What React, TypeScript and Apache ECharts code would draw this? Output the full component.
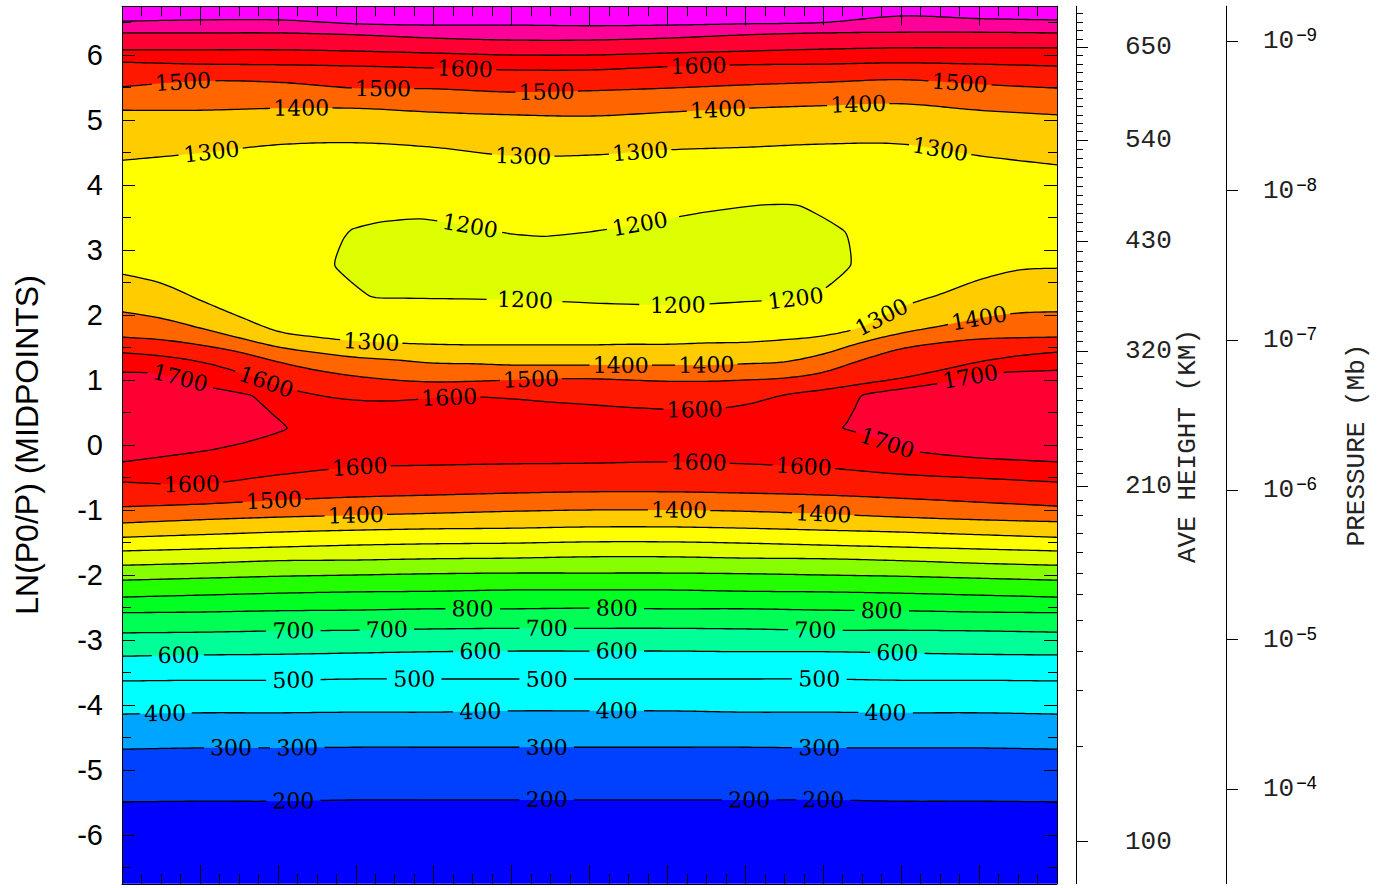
import React, { useEffect, useRef } from "react";
import * as echarts from "echarts";

// ---------- axes ----------
const LAT13 = [-90, -75, -60, -45, -30, -15, 0, 15, 30, 45, 60, 75, 90];
const LAT25 = [-90, -82.5, -75, -67.5, -60, -52.5, -45, -37.5, -30, -22.5, -15, -7.5, 0, 7.5, 15, 22.5, 30, 37.5, 45, 52.5, 60, 67.5, 75, 82.5, 90];
const Y_MAJOR = [-6, -5, -4, -3, -2, -1, 0, 1, 2, 3, 4, 5, 6];
const Y_MINOR = [-6.5, -5.5, -4.5, -3.5, -2.5, -1.5, -0.5, 0.5, 1.5, 2.5, 3.5, 4.5, 5.5, 6.5];

// average height profile (km) vs ln(p0/p)
const HEIGHT_KM = [100, 110, 120, 130, 140, 150, 160, 170, 180, 190, 200, 210, 320, 430, 540, 650];
const HEIGHT_LNP = [-6.1, -4.63, -3.77, -3.18, -2.7, -2.3, -1.97, -1.65, -1.35, -1.08, -0.85, -0.63, 1.44, 3.14, 4.69, 6.12];
const HEIGHT_LABELS = [100, 210, 320, 430, 540, 650];

// pressure axis (mb), p = P0 * exp(-lnp)
const P0_MB = 5e-7;
const PRESSURE_EXP = [-9, -8, -7, -6, -5, -4];

// ---------- contour lines: ln(p0/p) of each isotherm (K) ----------
// lower stack, T rises upward
const C200 = [-5.49, -5.48, -5.48, -5.46, -5.46, -5.46, -5.46, -5.46, -5.46, -5.46, -5.48, -5.48, -5.49];
const C300 = [-4.68, -4.66, -4.66, -4.65, -4.65, -4.65, -4.65, -4.65, -4.65, -4.66, -4.66, -4.66, -4.68];
const C400 = [-4.14, -4.12, -4.12, -4.11, -4.11, -4.09, -4.09, -4.09, -4.11, -4.11, -4.12, -4.12, -4.14];
const C500 = [-3.63, -3.62, -3.62, -3.6, -3.6, -3.6, -3.6, -3.6, -3.6, -3.6, -3.62, -3.62, -3.63];
const C600 = [-3.25, -3.23, -3.22, -3.2, -3.18, -3.17, -3.17, -3.17, -3.18, -3.18, -3.2, -3.22, -3.23];
const C700 = [-2.89, -2.88, -2.86, -2.85, -2.83, -2.82, -2.82, -2.82, -2.83, -2.85, -2.85, -2.86, -2.88];
const C800 = [-2.58, -2.57, -2.55, -2.54, -2.52, -2.52, -2.51, -2.52, -2.52, -2.54, -2.55, -2.57, -2.58];
const C900 = [-2.34, -2.31, -2.28, -2.26, -2.25, -2.23, -2.23, -2.23, -2.25, -2.26, -2.28, -2.31, -2.34];
const C1000 = [-2.08, -2.05, -2.02, -2.0, -1.98, -1.97, -1.97, -1.97, -1.98, -2.0, -2.02, -2.05, -2.08];
const C1100 = [-1.85, -1.82, -1.78, -1.77, -1.75, -1.74, -1.72, -1.72, -1.74, -1.75, -1.78, -1.82, -1.85];
const C1200 = [-1.63, -1.6, -1.57, -1.54, -1.52, -1.51, -1.49, -1.49, -1.51, -1.54, -1.57, -1.6, -1.63];
const C1300 = [-1.42, -1.38, -1.34, -1.31, -1.29, -1.28, -1.26, -1.26, -1.28, -1.31, -1.34, -1.38, -1.42];
const C1400 = [-1.2, -1.15, -1.11, -1.08, -1.05, -1.02, -1.0, -1.0, -1.02, -1.06, -1.11, -1.15, -1.18];
const C1500 = [-0.95, -0.91, -0.85, -0.8, -0.77, -0.74, -0.72, -0.72, -0.74, -0.77, -0.82, -0.88, -0.94];
const C1600 = [-0.57, -0.6, -0.46, -0.34, -0.31, -0.29, -0.28, -0.26, -0.29, -0.35, -0.45, -0.51, -0.57];
// middle, T falls upward
const M1600 = [1.42, 1.37, 1.28, 1.12, 0.91, 0.77, 0.69, 0.68, 0.72, 0.74, 0.71, 0.66, 0.62, 0.58, 0.55, 0.55, 0.62, 0.77, 0.85, 0.94, 1.03, 1.15, 1.28, 1.37, 1.43];
const M1500 = [1.66, 1.62, 1.54, 1.43, 1.28, 1.15, 1.06, 1.0, 0.97, 0.98, 1.0, 1.02, 1.02, 1.0, 0.98, 0.98, 1.0, 1.03, 1.12, 1.31, 1.48, 1.57, 1.63, 1.65, 1.66];
const M1400 = [2.05, 1.95, 1.8, 1.65, 1.51, 1.42, 1.35, 1.31, 1.26, 1.25, 1.23, 1.23, 1.23, 1.23, 1.23, 1.23, 1.25, 1.28, 1.4, 1.58, 1.72, 1.83, 1.95, 2.03, 2.05];
const M1300 = [2.63, 2.49, 2.23, 1.98, 1.75, 1.66, 1.6, 1.57, 1.55, 1.54, 1.54, 1.54, 1.54, 1.55, 1.55, 1.57, 1.58, 1.62, 1.68, 1.82, 2.12, 2.32, 2.54, 2.69, 2.72];
// upper stack, T rises upward
const U1300 = [4.38, 4.49, 4.62, 4.65, 4.58, 4.45, 4.46, 4.54, 4.58, 4.63, 4.63, 4.45, 4.31];
const U1400 = [5.15, 5.15, 5.18, 5.18, 5.12, 5.08, 5.06, 5.12, 5.18, 5.22, 5.25, 5.15, 5.08];
const U1500 = [5.51, 5.6, 5.58, 5.49, 5.48, 5.43, 5.45, 5.49, 5.54, 5.58, 5.62, 5.55, 5.49];
const U1600 = [5.89, 5.86, 5.85, 5.83, 5.8, 5.77, 5.77, 5.82, 5.85, 5.86, 5.88, 5.86, 5.83];
const U1700 = [6.08, 6.08, 6.08, 6.06, 6.03, 6.0, 6.0, 6.03, 6.06, 6.09, 6.11, 6.11, 6.11];
const U1800 = [6.34, 6.34, 6.34, 6.31, 6.26, 6.23, 6.23, 6.26, 6.31, 6.34, 6.35, 6.35, 6.34];
const U1900 = [6.52, 6.54, 6.54, 6.48, 6.46, 6.46, 6.45, 6.46, 6.48, 6.5, 6.6, 6.56, 6.54];

// closed / edge-bounded regions
const ISLAND_1200_LAT = [-49.0, -47.5, -45.7, -40.3, -32.6, -23.0, -15.3, -8.6, 0.1, 9.7, 21.3, 32.8, 40.5, 49.2, 50.3, 45.5, 40.5, 29.0, 17.0, 2.0, -12.4, -26.9, -36.5, -42.3];
const ISLAND_1200_LNP = [2.75, 3.15, 3.32, 3.43, 3.48, 3.37, 3.25, 3.21, 3.28, 3.4, 3.57, 3.69, 3.68, 3.28, 2.77, 2.42, 2.26, 2.2, 2.15, 2.18, 2.23, 2.25, 2.26, 2.29];
const LOBE_W_1700_LAT = [-90, -84.6, -78.8, -73.1, -65.4, -63.8, -61.1, -58.2, -61.5, -66.7, -73.1, -79.4, -86.0, -90];
const LOBE_W_1700_LNP = [1.12, 1.11, 1.03, 0.89, 0.77, 0.68, 0.48, 0.26, 0.15, 0.03, -0.08, -0.15, -0.22, -0.26];
const LOBE_E_1700_LAT = [90, 80.4, 73.3, 67.5, 59.8, 52.6, 51.1, 49.6, 48.8, 52.1, 57.3, 63.6, 75.2, 90];
const LOBE_E_1700_LNP = [1.15, 1.12, 1.05, 0.95, 0.86, 0.77, 0.57, 0.35, 0.26, 0.18, 0.03, -0.11, -0.2, -0.26];

// contour label positions (latitude along each line)
const LBL_C200 = [-56.7, -8.0, 30.9, 45.3];
const LBL_C300 = [-68.8, -56.1, -8.0, 44.4];
const LBL_C400 = [-81.7, -21.1, 4.9, 57.3];
const LBL_C500 = [-56.7, -33.6, -8.0, 44.4];
const LBL_C600 = [-78.8, -21.1, 4.9, 59.2];
const LBL_C700 = [-56.7, -38.8, -8.0, 43.4];
const LBL_C800 = [-22.4, 5.3, 56.3];
const LBL_C1400 = [-45.1, 17.4, 45.0];
const LBL_C1500 = [-61.1];
const LBL_C1600 = [-76.9, -44.6, 20.9, 41.1];
const LBL_M1600 = [-62.5, -27.2, 19.9];
const LBL_M1500 = [-11.5];
const LBL_M1400 = [5.9, 22.2, 74.8];
const LBL_M1300 = [-41.9, 55.9];
const LBL_U1300 = [-73.1, -12.8, 9.7, 67.5];
const LBL_U1400 = [-55.7, 25.1, 51.5];
const LBL_U1500 = [-78.4, -40.0, -8.0, 71.3];
const LBL_U1600 = [-24.0, 20.9];
const LBL_ISLAND_1200 = [[-23.0, 3.37], [9.7, 3.4], [-12.4, 2.23], [17.0, 2.15], [39.2, 2.22]];
const LBL_LOBE_W_1700 = [[-78.8, 1.0]];
const LBL_LOBE_E_1700 = [[73.3, 1.05], [57.3, 0.05]];

// colour of each 100 K band: <200, 200-300, ..., >=1900
const BAND_COLORS = [
  "#0000FF", "#0040FF", "#00A5FF", "#00FFFF", "#00FFFF", "#00FF99", "#00FF55", "#00FF22", "#22FF00", "#88FF00",
  "#DDFF00", "#FFFF00", "#FFCC00", "#FF6600", "#FF1800", "#FF0000", "#FF0033", "#FF0099", "#FF00FF",
];

type LineDef = { id: string; level: number; lat: number[]; lnp: number[]; rising: boolean; labels: number[] };
const LINES: LineDef[] = [
  { id: "c200", level: 200, lat: LAT13, lnp: C200, rising: true, labels: LBL_C200 },
  { id: "c300", level: 300, lat: LAT13, lnp: C300, rising: true, labels: LBL_C300 },
  { id: "c400", level: 400, lat: LAT13, lnp: C400, rising: true, labels: LBL_C400 },
  { id: "c500", level: 500, lat: LAT13, lnp: C500, rising: true, labels: LBL_C500 },
  { id: "c600", level: 600, lat: LAT13, lnp: C600, rising: true, labels: LBL_C600 },
  { id: "c700", level: 700, lat: LAT13, lnp: C700, rising: true, labels: LBL_C700 },
  { id: "c800", level: 800, lat: LAT13, lnp: C800, rising: true, labels: LBL_C800 },
  { id: "c900", level: 900, lat: LAT13, lnp: C900, rising: true, labels: [] },
  { id: "c1000", level: 1000, lat: LAT13, lnp: C1000, rising: true, labels: [] },
  { id: "c1100", level: 1100, lat: LAT13, lnp: C1100, rising: true, labels: [] },
  { id: "c1200", level: 1200, lat: LAT13, lnp: C1200, rising: true, labels: [] },
  { id: "c1300", level: 1300, lat: LAT13, lnp: C1300, rising: true, labels: [] },
  { id: "c1400", level: 1400, lat: LAT13, lnp: C1400, rising: true, labels: LBL_C1400 },
  { id: "c1500", level: 1500, lat: LAT13, lnp: C1500, rising: true, labels: LBL_C1500 },
  { id: "c1600", level: 1600, lat: LAT13, lnp: C1600, rising: true, labels: LBL_C1600 },
  { id: "m1600", level: 1600, lat: LAT25, lnp: M1600, rising: false, labels: LBL_M1600 },
  { id: "m1500", level: 1500, lat: LAT25, lnp: M1500, rising: false, labels: LBL_M1500 },
  { id: "m1400", level: 1400, lat: LAT25, lnp: M1400, rising: false, labels: LBL_M1400 },
  { id: "m1300", level: 1300, lat: LAT25, lnp: M1300, rising: false, labels: LBL_M1300 },
  { id: "u1300", level: 1300, lat: LAT13, lnp: U1300, rising: true, labels: LBL_U1300 },
  { id: "u1400", level: 1400, lat: LAT13, lnp: U1400, rising: true, labels: LBL_U1400 },
  { id: "u1500", level: 1500, lat: LAT13, lnp: U1500, rising: true, labels: LBL_U1500 },
  { id: "u1600", level: 1600, lat: LAT13, lnp: U1600, rising: true, labels: LBL_U1600 },
  { id: "u1700", level: 1700, lat: LAT13, lnp: U1700, rising: true, labels: [] },
  { id: "u1800", level: 1800, lat: LAT13, lnp: U1800, rising: true, labels: [] },
  { id: "u1900", level: 1900, lat: LAT13, lnp: U1900, rising: true, labels: [] },
];

type ShapeDef = { level: number; lat: number[]; lnp: number[]; closed: boolean; bin: number; labels: number[][] };
const SHAPES: ShapeDef[] = [
  { level: 1200, lat: ISLAND_1200_LAT, lnp: ISLAND_1200_LNP, closed: true, bin: 1100, labels: LBL_ISLAND_1200 },
  { level: 1700, lat: LOBE_W_1700_LAT, lnp: LOBE_W_1700_LNP, closed: false, bin: 1700, labels: LBL_LOBE_W_1700 },
  { level: 1700, lat: LOBE_E_1700_LAT, lnp: LOBE_E_1700_LNP, closed: false, bin: 1700, labels: LBL_LOBE_E_1700 },
];

const Y_MIN = -6.75;
const Y_MAX = 6.75;

const binColor = (lower: number) => BAND_COLORS[Math.round(lower / 100) - 1];

function heightToLnp(h: number): number {
  const n = HEIGHT_KM.length;
  let i = 0;
  while (i < n - 2 && h > HEIGHT_KM[i + 1]) i++;
  const t = (h - HEIGHT_KM[i]) / (HEIGHT_KM[i + 1] - HEIGHT_KM[i]);
  return HEIGHT_LNP[i] + t * (HEIGHT_LNP[i + 1] - HEIGHT_LNP[i]);
}
const HEIGHT_MAJOR_LNP = HEIGHT_LABELS.map(heightToLnp);
const HEIGHT_MINOR_LNP: number[] = [];
for (let h = 100; h <= 700; h += 10) {
  const v = heightToLnp(h);
  if (v <= Y_MAX) HEIGHT_MINOR_LNP.push(v);
}
const PRESSURE_LNP = PRESSURE_EXP.map((e) => Math.log(P0_MB / Math.pow(10, e)));

// cardinal spline densification in pixel space
function spline(pts: number[][], closed: boolean, steps: number, tension: number): number[][] {
  const n = pts.length;
  const out: number[][] = [];
  const get = (i: number) => (closed ? pts[(i + n) % n] : pts[Math.max(0, Math.min(n - 1, i))]);
  const k = (1 - tension) / 2;
  const segs = closed ? n : n - 1;
  for (let i = 0; i < segs; i++) {
    const p0 = get(i - 1), p1 = get(i), p2 = get(i + 1), p3 = get(i + 2);
    const m1 = [k * (p2[0] - p0[0]), k * (p2[1] - p0[1])];
    const m2 = [k * (p3[0] - p1[0]), k * (p3[1] - p1[1])];
    for (let s = 0; s < steps; s++) {
      const t = s / steps, t2 = t * t, t3 = t2 * t;
      const h00 = 2 * t3 - 3 * t2 + 1, h10 = t3 - 2 * t2 + t, h01 = -2 * t3 + 3 * t2, h11 = t3 - t2;
      out.push([
        h00 * p1[0] + h10 * m1[0] + h01 * p2[0] + h11 * m2[0],
        h00 * p1[1] + h10 * m1[1] + h01 * p2[1] + h11 * m2[1],
      ]);
    }
  }
  if (!closed) out.push(pts[n - 1]);
  else out.push(pts[0]);
  return out;
}

const LABEL_FONT_SIZE = 22;
const LABEL_FONT = "DejaVu Serif";

function renderContours(_params: any, api: any) {
  const children: any[] = [];
  const [xL, yTop] = api.coord([-90, Y_MAX]);
  const [xR, yBot] = api.coord([90, Y_MIN]);
  children.push({ type: "rect", shape: { x: xL, y: yTop, width: xR - xL, height: yBot - yTop }, style: { fill: BAND_COLORS[0] } });

  const strokes: { pts: number[][]; level: number; centers: { x: number; y: number; r: number }[] }[] = [];
  const labels: any[] = [];

  const placeLabel = (dense: number[][], idx: number, level: number, centers: any[]) => {
    const i0 = Math.max(0, idx - 4), i1 = Math.min(dense.length - 1, idx + 4);
    let ang = Math.atan2(dense[i1][1] - dense[i0][1], dense[i1][0] - dense[i0][0]);
    if (ang > Math.PI / 2) ang -= Math.PI;
    if (ang < -Math.PI / 2) ang += Math.PI;
    const text = String(level);
    const w = text.length * 0.636 * LABEL_FONT_SIZE;
    const [cx, cy] = dense[idx];
    centers.push({ x: cx, y: cy, r: w / 2 + 3 });
    labels.push({
      type: "text",
      x: cx,
      y: cy,
      rotation: -ang,
      style: { text, fill: "#000", fontSize: LABEL_FONT_SIZE, fontFamily: LABEL_FONT, align: "center", verticalAlign: "middle" },
    });
  };

  for (const ln of LINES) {
    const pts = ln.lat.map((la, i) => api.coord([la, ln.lnp[i]]));
    const dense = spline(pts, false, ln.lat.length > 13 ? 10 : 20, 0);
    const color = ln.rising ? binColor(ln.level) : binColor(ln.level - 100);
    children.push({ type: "polygon", shape: { points: [...dense, [xR, yTop], [xL, yTop]] }, style: { fill: color } });
    const centers: any[] = [];
    for (const la of ln.labels) {
      const tx = api.coord([la, 0])[0];
      let best = 0, bd = Infinity;
      dense.forEach((p, i) => { const d = Math.abs(p[0] - tx); if (d < bd) { bd = d; best = i; } });
      placeLabel(dense, best, ln.level, centers);
    }
    strokes.push({ pts: dense, level: ln.level, centers });
  }

  for (const sh of SHAPES) {
    const pts = sh.lat.map((la, i) => api.coord([la, sh.lnp[i]]));
    const dense = spline(pts, sh.closed, 8, 0.5);
    children.push({ type: "polygon", shape: { points: dense }, style: { fill: binColor(sh.bin) } });
    const centers: any[] = [];
    for (const lb of sh.labels) {
      const [tx, ty] = api.coord([lb[0], lb[1]]);
      let best = 0, bd = Infinity;
      dense.forEach((p, i) => { const d = (p[0] - tx) ** 2 + (p[1] - ty) ** 2; if (d < bd) { bd = d; best = i; } });
      placeLabel(dense, best, sh.level, centers);
    }
    strokes.push({ pts: dense, level: sh.level, centers });
  }

  for (const st of strokes) {
    let run: number[][] = [];
    const flush = () => {
      if (run.length > 1) {
        children.push({ type: "polyline", shape: { points: run }, style: { stroke: "#000", lineWidth: 1.3, fill: null } });
      }
      run = [];
    };
    for (const p of st.pts) {
      const hidden = st.centers.some((c) => (p[0] - c.x) ** 2 + (p[1] - c.y) ** 2 < c.r * c.r);
      if (hidden) flush();
      else run.push(p);
    }
    flush();
  }

  return { type: "group", children: [...children, ...labels] };
}

const AXIS_LINE = { show: true, onZero: false, lineStyle: { color: "#000", width: 1 } };
const NO_AXIS_LINE = { show: false, onZero: false };
const TICK_STYLE = { color: "#000", width: 1 };

function buildOption(): any {
  const xAxes = ["bottom", "top"].map((pos) => ({
    type: "value",
    min: -90,
    max: 90,
    interval: 15,
    position: pos,
    z: 10,
    axisLine: AXIS_LINE,
    axisTick: { show: true, inside: true, length: 19, lineStyle: TICK_STYLE },
    minorTick: { show: true, splitNumber: 4, length: 10, lineStyle: TICK_STYLE },
    axisLabel: { show: false },
    splitLine: { show: false },
    minorSplitLine: { show: false },
  }));
  const yBase = { type: "value", min: Y_MIN, max: Y_MAX, z: 10, splitLine: { show: false } };
  const yAxes = [
    {
      ...yBase,
      position: "left",
      axisLine: AXIS_LINE,
      axisTick: { show: true, inside: true, length: 13, customValues: Y_MAJOR, lineStyle: TICK_STYLE },
      axisLabel: { show: true, customValues: Y_MAJOR, margin: 19, color: "#000", fontSize: 29, fontFamily: "Liberation Sans" },
    },
    {
      ...yBase,
      position: "left",
      axisLine: NO_AXIS_LINE,
      axisTick: { show: true, inside: true, length: 9, customValues: Y_MINOR, lineStyle: TICK_STYLE },
      axisLabel: { show: false },
    },
    {
      ...yBase,
      position: "right",
      axisLine: AXIS_LINE,
      axisTick: { show: true, inside: true, length: 13, customValues: Y_MAJOR, lineStyle: TICK_STYLE },
      axisLabel: { show: false },
    },
    {
      ...yBase,
      position: "right",
      axisLine: NO_AXIS_LINE,
      axisTick: { show: true, inside: true, length: 9, customValues: Y_MINOR, lineStyle: TICK_STYLE },
      axisLabel: { show: false },
    },
    {
      ...yBase,
      position: "right",
      offset: 19,
      axisLine: AXIS_LINE,
      axisTick: { show: true, inside: false, length: 12, customValues: HEIGHT_MAJOR_LNP, lineStyle: TICK_STYLE },
      axisLabel: {
        show: true,
        customValues: HEIGHT_MAJOR_LNP,
        margin: 49,
        color: "#222",
        fontSize: 26,
        fontFamily: "Liberation Mono",
        formatter: (v: number) => {
          let best = 0;
          HEIGHT_MAJOR_LNP.forEach((l, i) => { if (Math.abs(l - v) < Math.abs(HEIGHT_MAJOR_LNP[best] - v)) best = i; });
          return String(HEIGHT_LABELS[best]);
        },
      },
    },
    {
      ...yBase,
      position: "right",
      offset: 19,
      axisLine: NO_AXIS_LINE,
      axisTick: { show: true, inside: false, length: 7, customValues: HEIGHT_MINOR_LNP, lineStyle: TICK_STYLE },
      axisLabel: { show: false },
    },
    {
      ...yBase,
      position: "right",
      offset: 169,
      axisLine: AXIS_LINE,
      axisTick: { show: true, inside: false, length: 12, customValues: PRESSURE_LNP, lineStyle: TICK_STYLE },
      axisLabel: {
        show: true,
        customValues: PRESSURE_LNP,
        margin: 37,
        formatter: (v: number) => {
          const e = Math.round(Math.log10(P0_MB) - v / Math.LN10);
          return `{b|10}{s|\u2212${Math.abs(e)}}`;
        },
        rich: {
          b: { fontFamily: "Liberation Mono", fontSize: 26, color: "#222", lineHeight: 30 },
          s: { fontFamily: "Liberation Sans", fontSize: 18, color: "#000", lineHeight: 16, verticalAlign: "top", padding: [0, 0, 0, 2] },
        },
      },
    },
  ];

  return {
    animation: false,
    backgroundColor: "#fff",
    grid: { left: 122, top: 6.25, width: 935, height: 877.5, containLabel: false, outerBoundsMode: "none" },
    xAxis: xAxes,
    yAxis: yAxes,
    graphic: [
      {
        type: "text", x: 27, y: 445, rotation: Math.PI / 2, z: 20,
        style: { text: "LN(P0/P) (MIDPOINTS)", fill: "#000", fontSize: 32, fontFamily: "Liberation Sans", align: "center", verticalAlign: "middle" },
      },
      {
        type: "text", x: 1188, y: 446, rotation: Math.PI / 2, z: 20,
        style: { text: "AVE HEIGHT (KM)", fill: "#222", fontSize: 26, fontFamily: "Liberation Mono", align: "center", verticalAlign: "middle" },
      },
      {
        type: "text", x: 1357, y: 445, rotation: Math.PI / 2, z: 20,
        style: { text: "PRESSURE (Mb)", fill: "#222", fontSize: 26, fontFamily: "Liberation Mono", align: "center", verticalAlign: "middle" },
      },
    ],
    series: [
      {
        type: "custom",
        xAxisIndex: 0,
        yAxisIndex: 0,
        z: 1,
        silent: true,
        data: [[0, 0]],
        renderItem: renderContours,
      },
    ],
  };
}

export default function App() {
  const ref = useRef<HTMLDivElement>(null);
  useEffect(() => {
    if (!ref.current) return;
    const chart = echarts.init(ref.current, undefined, { renderer: "svg" });
    chart.setOption(buildOption());
    return () => chart.dispose();
  }, []);
  return <div ref={ref} style={{ position: "fixed", left: 0, top: 0, width: "1387px", height: "888px", background: "#fff" }} />;
}
